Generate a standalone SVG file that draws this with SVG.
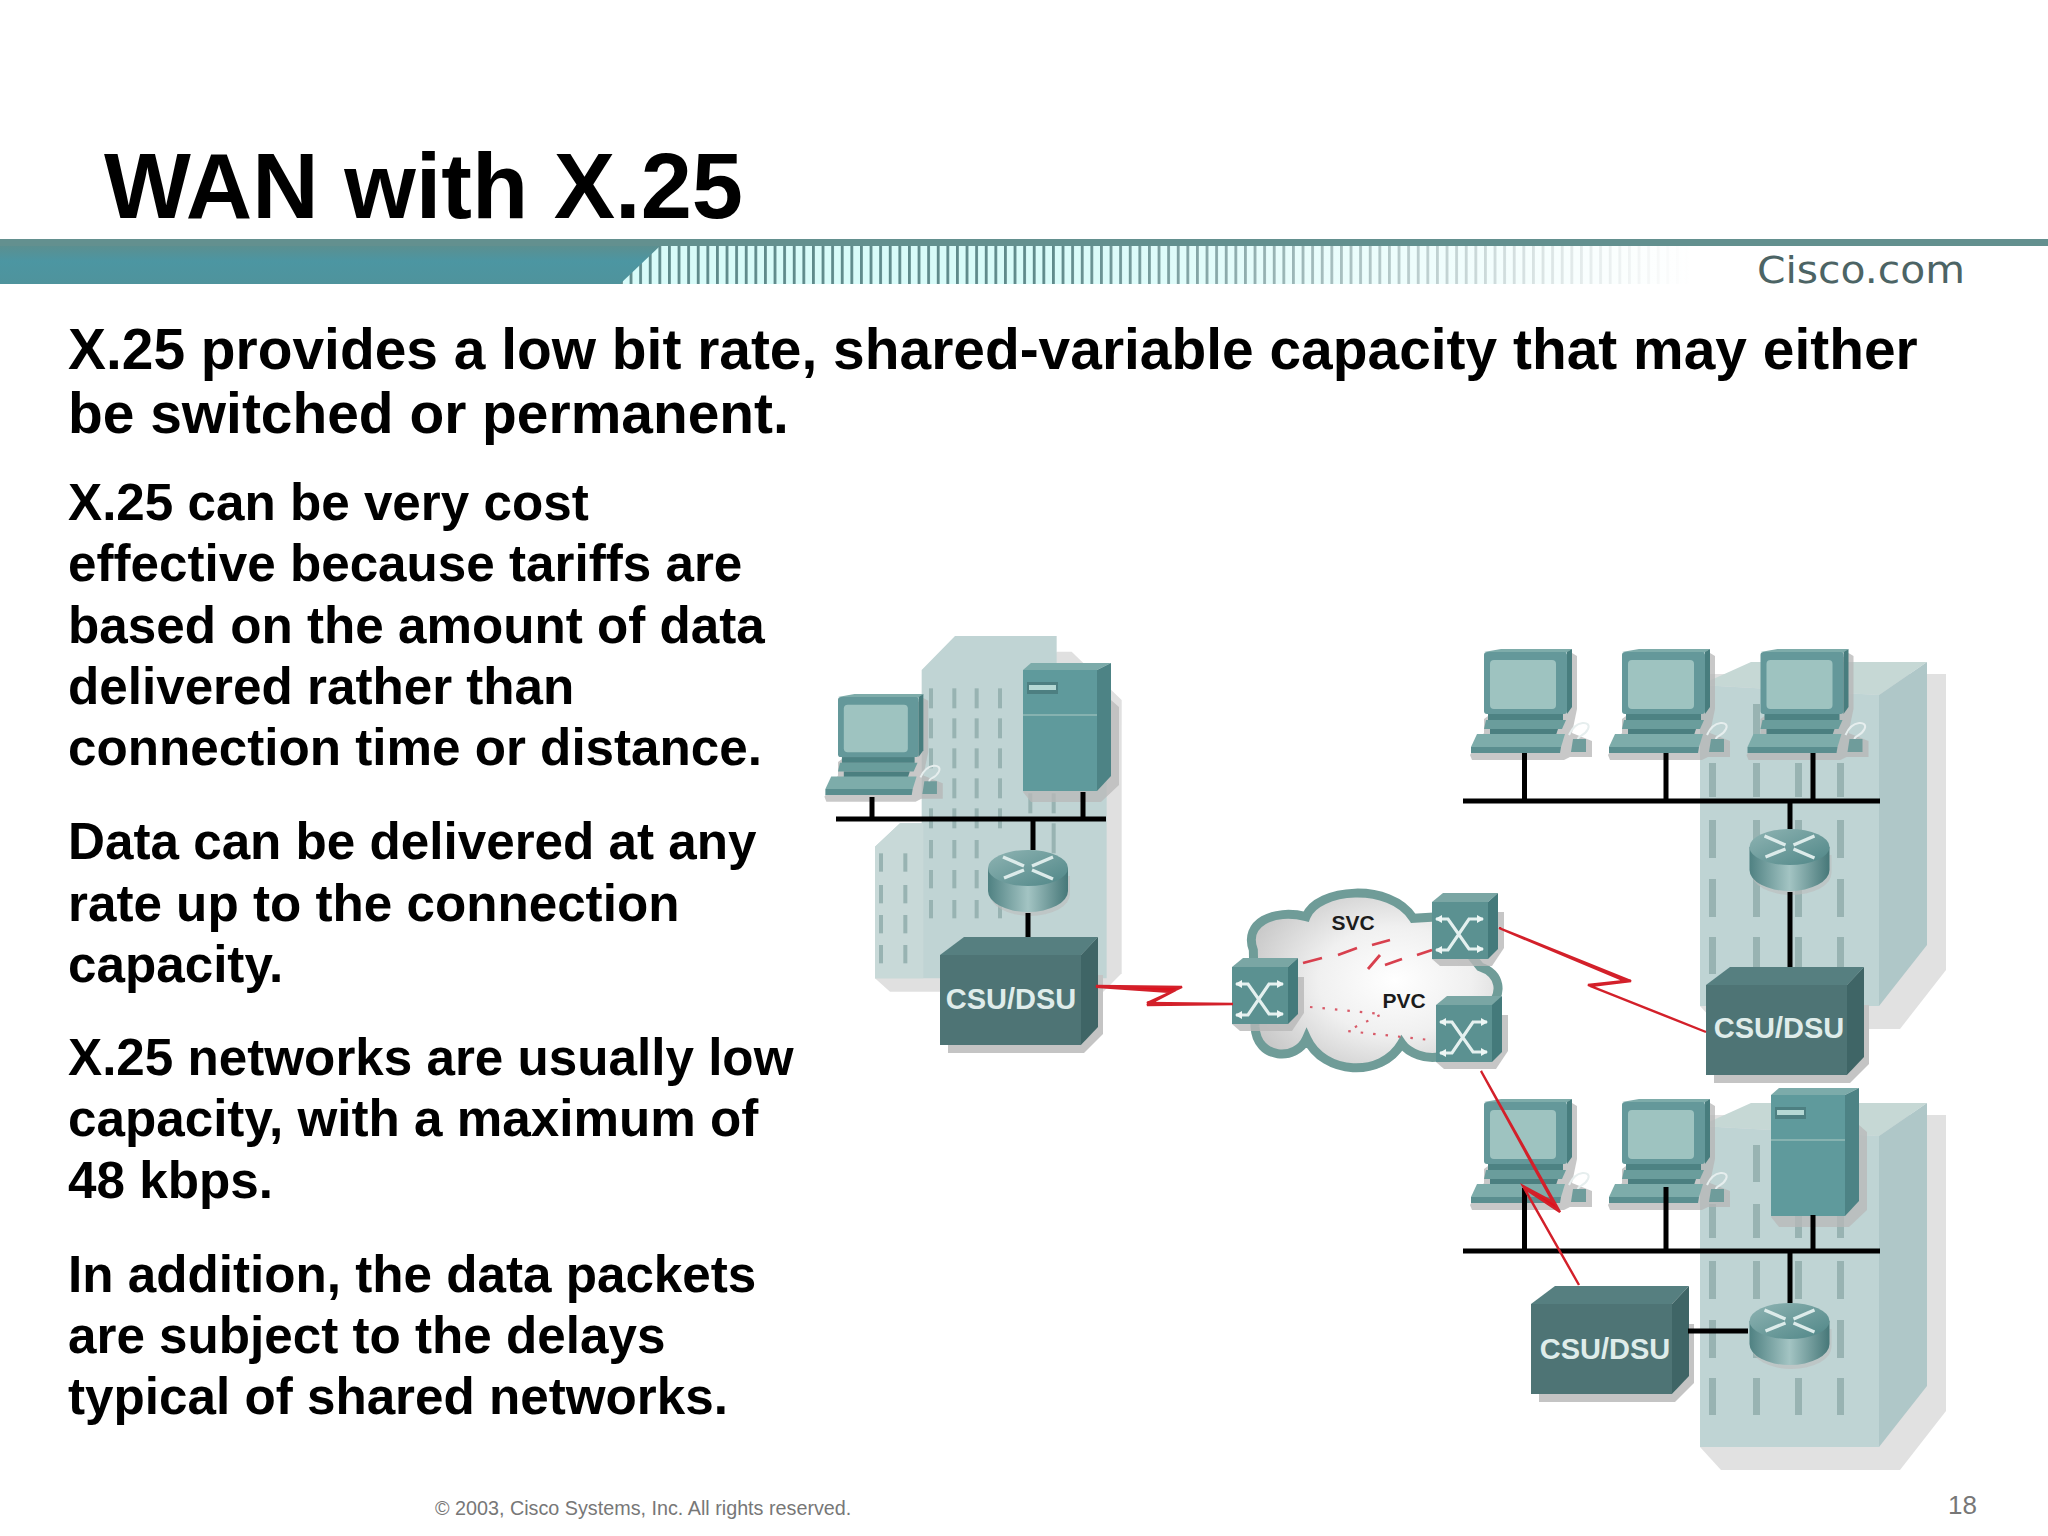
<svg xmlns="http://www.w3.org/2000/svg" width="2048" height="1536" viewBox="0 0 2048 1536">
<style>
text{font-family:"Liberation Sans",Arial,sans-serif}
.h{font-weight:700;font-size:56.9px;fill:#000}
.b{font-weight:700;font-size:51.2px;fill:#000}
.csu{font-size:29px;font-weight:700;fill:#dfecea;text-anchor:middle}
.lbl{font-size:21px;font-weight:700;fill:#1c1c1c;text-anchor:middle}
.blk{stroke:#000;stroke-width:5;fill:none}
.red{stroke:#d3202a;stroke-width:2.4;fill:#e0101c;stroke-linejoin:miter}
.dash{stroke:#d8404e;stroke-width:2.8;fill:none}
.dot{stroke:#d85a68;stroke-width:2.2;fill:none;stroke-dasharray:2.5 10}
.win{fill:#98b3b2}
</style>
<defs>
<linearGradient id="gBar" x1="0" y1="0" x2="0" y2="1"><stop offset="0" stop-color="#5b8f90"/><stop offset=".4" stop-color="#4c96a2"/><stop offset="1" stop-color="#4f939c"/></linearGradient>
<linearGradient id="gFade" x1="1050" y1="0" x2="1690" y2="0" gradientUnits="userSpaceOnUse"><stop offset="0" stop-color="#fff" stop-opacity="0"/><stop offset="1" stop-color="#fff"/></linearGradient>
<pattern id="stripes" x="620" y="0" width="9.6" height="10" patternUnits="userSpaceOnUse"><rect x="0" width="2.8" height="10" fill="#5f8a8b"/></pattern>
<linearGradient id="gRouter" x1="0" y1="0" x2="1" y2="0"><stop offset="0" stop-color="#4f8182"/><stop offset=".5" stop-color="#a3c4c3"/><stop offset="1" stop-color="#467778"/></linearGradient>
<linearGradient id="gRtop" x1="0" y1="0" x2="1" y2="1"><stop offset="0" stop-color="#8fb4b3"/><stop offset="1" stop-color="#4f8687"/></linearGradient>
<radialGradient id="gCloud" cx=".58" cy=".5" r=".62"><stop offset="0" stop-color="#fff"/><stop offset=".5" stop-color="#f0f0f0"/><stop offset="1" stop-color="#c9c9c9"/></radialGradient>
<g id="pc">
<path d="M88,4 L93,7 L93,60 L88,84 L108,92 L108,108 L86,108 L80,111 L-12,111 L-14,106 L0,84 L0,70 L88,4Z" fill="#b5b5b5" opacity=".75"/>
<polygon points="0,3 17,0 88,0 82,4" fill="#7eacaa"/>
<rect x="0" y="3" width="83" height="62" rx="3" fill="#64989a"/>
<polygon points="83,3 88,0 88,58 83,65" fill="#487d7e"/>
<rect x="6" y="11" width="66" height="49" rx="4" fill="#9ec3c0"/>
<rect x="4" y="65" width="75" height="6" fill="#4d8283"/>
<polygon points="2,71 82,71 78,80 0,80" fill="#6a9d9c"/>
<polygon points="6,80 74,80 72,86 6,86" fill="#4b7f80"/>
<polygon points="-7,85 81,85 77,98 -13,98" fill="#7dacaa"/>
<polygon points="-13,98 77,98 76,104 -13,104" fill="#5a8e8f"/>
<polygon points="89,90 102,90 102,103 87,103" fill="#6f9c9b"/>
<path d="M85,86 C92,70 108,72 104,80 C100,88 94,86 94,90" fill="none" stroke="#e6eeee" stroke-width="2"/>
</g>
<g id="srv">
<polygon points="88,30 96,37 96,115 78,132 8,132 0,122 74,0" fill="#b8b8b8" opacity=".75"/>
<polygon points="0,0 8,-7 88,-7 74,0" fill="#7cabaa"/>
<rect width="74" height="121" fill="#5f9a9c"/>
<rect y="44" width="74" height="2" fill="#86b2b0"/>
<polygon points="74,0 88,-7 88,106 74,121" fill="#4d8385"/>
<rect x="4" y="12" width="31" height="12" fill="#4d7f81"/>
<rect x="6" y="15" width="27" height="5" fill="#b5d8d4"/>
</g>
<g id="rtr">
<path d="M-38,26 A40,22 0 0 0 42,26 L42,8 L-38,8Z" fill="#bdbdbd" opacity=".6"/>
<path d="M-40,0 L-40,23 A40,21 0 0 0 40,23 L40,0Z" fill="url(#gRouter)"/>
<ellipse rx="40" ry="18" fill="url(#gRtop)"/>
<path d="M-25,-11 L-4,-2 M25,-11 L4,-2 M-24,10 L-4,2 M25,11 L4,2" stroke="#dcebea" stroke-width="3.4" fill="none"/>
</g>
<g id="csu">
<polygon points="8,90 8,98 144,98 163,79 163,20 157,20 157,72 141,90" fill="#c4c4c4"/>
<polygon points="0,0 24,-18 158,-18 141,0" fill="#567f80"/>
<rect width="141" height="90" fill="#4e7475"/>
<polygon points="141,0 158,-18 158,72 141,90" fill="#3f6566"/>
</g>
<g id="sw">
<polygon points="66,10 72,10 72,46 60,64 8,64 0,57" fill="#b8b8b8" opacity=".8"/>
<polygon points="0,0 11,-9 66,-9 56,0" fill="#7aa6a4"/>
<rect width="56" height="57" fill="#5b9191"/>
<polygon points="56,0 66,-9 66,47 56,57" fill="#447a7b"/>
<path d="M4,17 H16 L37,47 H51 M4,48 H16 L37,17 H51" fill="none" stroke="#e4f0ef" stroke-width="3.2"/>
<path d="M3,17 l7,-4 v8z M52,17 l-7,-4 v8z M3,48 l7,-4 v8z M52,47 l-7,-4 v8z" fill="#eef6f5"/>
</g>
<g id="bld">
<polygon points="227,12 246,12 246,308 200,367 21,367 0,344 0,12" fill="#e1e1e1"/>
<polygon points="0,23 51,0 227,0 179,33" fill="#c6d8d5"/>
<polygon points="0,23 179,33 179,344 0,344" fill="#bfd4d4"/>
<polygon points="179,33 227,0 227,283 179,344" fill="#afc7c8"/>
<rect x="53" y="42" width="7" height="37" class="win"/>
<g class="win">
<rect x="9" y="101" width="7" height="34"/><rect x="53" y="101" width="7" height="34"/><rect x="95" y="101" width="7" height="34"/><rect x="137" y="101" width="7" height="34"/>
<rect x="9" y="158" width="7" height="38"/><rect x="53" y="158" width="7" height="38"/><rect x="95" y="158" width="7" height="38"/><rect x="137" y="158" width="7" height="38"/>
<rect x="9" y="217" width="7" height="38"/><rect x="53" y="217" width="7" height="38"/><rect x="95" y="217" width="7" height="38"/><rect x="137" y="217" width="7" height="38"/>
<rect x="9" y="275" width="7" height="37"/><rect x="53" y="275" width="7" height="37"/><rect x="95" y="275" width="7" height="37"/><rect x="137" y="275" width="7" height="37"/>
</g>
</g>
</defs>
<rect width="2048" height="1536" fill="#fff"/>

<g id="header">
<text x="104" y="218" style="font-weight:700;font-size:92px;fill:#000">WAN with X.25</text>
<rect x="620" y="246" width="1070" height="38" fill="#d8fbf9"/>
<rect x="620" y="246" width="1070" height="38" fill="url(#stripes)"/>
<rect x="1050" y="246" width="640" height="38" fill="url(#gFade)"/>
<rect y="239" width="2048" height="7" fill="#63908f"/>
<polygon points="0,246 660,246 620,284 0,284" fill="url(#gBar)"/>
<text x="1757" y="283" textLength="208" lengthAdjust="spacingAndGlyphs" style="font-family:'DejaVu Sans',sans-serif;font-size:38px;fill:#4c6465">Cisco.com</text>
</g>

<g id="body-text">
<text class="h" x="68" y="369">X.25 provides a low bit rate, shared-variable capacity that may either</text>
<text class="h" x="68" y="433">be switched or permanent.</text>
<text class="b" x="68" y="520">X.25 can be very cost</text>
<text class="b" x="68" y="581">effective because tariffs are</text>
<text class="b" x="68" y="643">based on the amount of data</text>
<text class="b" x="68" y="704">delivered rather than</text>
<text class="b" x="68" y="765">connection time or distance.</text>
<text class="b" x="68" y="859">Data can be delivered at any</text>
<text class="b" x="68" y="921">rate up to the connection</text>
<text class="b" x="68" y="982">capacity.</text>
<text class="b" x="68" y="1075">X.25 networks are usually low</text>
<text class="b" x="68" y="1136">capacity, with a maximum of</text>
<text class="b" x="68" y="1198">48 kbps.</text>
<text class="b" x="68" y="1292">In addition, the data packets</text>
<text class="b" x="68" y="1353">are subject to the delays</text>
<text class="b" x="68" y="1414">typical of shared networks.</text>
</g>

<g id="footer">
<text x="435" y="1515" style="font-size:19.75px;fill:#777">© 2003, Cisco Systems, Inc. All rights reserved.</text>
<text x="1948" y="1514" style="font-size:26px;fill:#777">18</text>
</g>

<g id="building-left" transform="translate(810 620) scale(.33333)">
<polygon points="740,95 785,95 935,240 935,1060 880,1115 240,1115 195,1075 740,95" fill="#e0e0e0"/>
<polygon points="335,150 435,48 740,48 740,130 890,300 890,1075 195,1075 195,680 270,610 335,610" fill="#c0d4d4"/>
<polygon points="195,680 270,610 340,610 340,1075 195,1075" fill="#c8d9d8"/>
<g class="win">
<rect x="357" y="205" width="12" height="60"/><rect x="427" y="205" width="12" height="60"/><rect x="494" y="205" width="12" height="60"/><rect x="564" y="205" width="12" height="60"/>
<rect x="357" y="295" width="12" height="60"/><rect x="427" y="295" width="12" height="60"/><rect x="494" y="295" width="12" height="60"/><rect x="564" y="295" width="12" height="60"/>
<rect x="357" y="385" width="12" height="60"/><rect x="427" y="385" width="12" height="60"/><rect x="494" y="385" width="12" height="60"/><rect x="564" y="385" width="12" height="60"/>
<rect x="427" y="475" width="12" height="60"/><rect x="494" y="475" width="12" height="60"/><rect x="564" y="475" width="12" height="60"/>
<rect x="357" y="565" width="12" height="60"/><rect x="427" y="565" width="12" height="60"/><rect x="494" y="565" width="12" height="60"/><rect x="564" y="565" width="12" height="60"/><rect x="655" y="520" width="12" height="60"/><rect x="725" y="520" width="12" height="60"/>
<rect x="357" y="660" width="12" height="55"/><rect x="427" y="660" width="12" height="55"/><rect x="494" y="660" width="12" height="55"/><rect x="725" y="610" width="12" height="90"/>
<rect x="357" y="750" width="12" height="55"/><rect x="427" y="750" width="12" height="55"/><rect x="494" y="750" width="12" height="55"/>
<rect x="357" y="840" width="12" height="55"/><rect x="427" y="840" width="12" height="55"/><rect x="494" y="840" width="12" height="55"/><rect x="564" y="840" width="12" height="55"/>
<rect x="207" y="700" width="12" height="55"/><rect x="280" y="700" width="12" height="55"/>
<rect x="207" y="795" width="12" height="55"/><rect x="280" y="795" width="12" height="55"/>
<rect x="207" y="885" width="12" height="55"/><rect x="280" y="885" width="12" height="55"/>
<rect x="207" y="975" width="12" height="55"/><rect x="280" y="975" width="12" height="55"/>
</g>
</g>
<use id="building-right-top" href="#bld" x="1700" y="662"/>
<use id="building-right-bottom" href="#bld" x="1700" y="1103"/>

<g id="pc-left"><use href="#pc" transform="translate(838 694) scale(.97)"/></g>
<g id="server-left"><use href="#srv" x="1023" y="670"/></g>
<g id="router-left"><use href="#rtr" x="1028" y="868"/></g>
<g id="csu-left"><use href="#csu" x="940" y="955"/><text class="csu" x="1011" y="1009">CSU/DSU</text></g>

<g id="pc-tr1"><use href="#pc" x="1484" y="649"/></g>
<g id="pc-tr2"><use href="#pc" x="1622" y="649"/></g>
<g id="pc-tr3"><use href="#pc" x="1760.5" y="649"/></g>
<g id="router-tr"><use href="#rtr" x="1789.5" y="847"/></g>
<g id="csu-tr"><use href="#csu" x="1706" y="985"/><text class="csu" x="1779" y="1038">CSU/DSU</text></g>

<g id="pc-br1"><use href="#pc" x="1484" y="1099"/></g>
<g id="pc-br2"><use href="#pc" x="1622" y="1099"/></g>
<g id="server-br"><use href="#srv" x="1771" y="1095"/></g>
<g id="router-br"><use href="#rtr" x="1789.5" y="1321"/></g>
<g id="csu-br"><use href="#csu" x="1531" y="1304"/><text class="csu" x="1605" y="1359">CSU/DSU</text></g>

<g id="cloud">
<g transform="translate(1200 860) scale(.33333)">
<path d="M160,270 C130,190 220,145 318,170 C350,85 570,65 640,175 L720,170 L840,320 C900,340 915,400 860,450 L720,590 C680,600 625,580 605,550 C545,655 370,645 320,535 C290,605 170,600 165,500Z" fill="#a8b4b4" transform="translate(8 10)" opacity=".6"/>
<path d="M160,270 C130,190 220,145 318,170 C350,85 570,65 640,175 L720,170 L840,320 C900,340 915,400 860,450 L720,590 C680,600 625,580 605,550 C545,655 370,645 320,535 C290,605 170,600 165,500Z" fill="url(#gCloud)" stroke="#6f9c98" stroke-width="27"/>
</g>
<text class="lbl" x="1353" y="930">SVC</text>
<text class="lbl" x="1404" y="1008">PVC</text>
</g>
<g id="switch-a"><use href="#sw" x="1232" y="967"/></g>
<g id="switch-b"><use href="#sw" x="1432" y="902"/></g>
<g id="switch-c"><use href="#sw" x="1436" y="1005"/></g>

<g id="connectors">
<path class="blk" d="M836,819 H1106 M872,797 V819 M1083,792 V819 M1033,819 V850 M1028,913 V937"/>
<path class="blk" d="M1463,801 H1880 M1524.5,753 V801 M1666,753 V801 M1813,753 V801 M1790,801 V829 M1790,892 V967"/>
<path class="blk" d="M1463,1251 H1880 M1524.5,1188 V1251 M1666,1187 V1251 M1813,1215 V1251 M1790,1251 V1303 M1688,1331 H1748"/>
<polygon class="red" points="1097,986 1182,987 1147,1003 1233,1004 1147,1005 1172,992 1097,987"/>
<polygon class="red" points="1499,928 1631,981 1590,986 1706,1032 1588,985 1625,981"/>
<polygon class="red" points="1481,1071 1560,1212 1524,1188 1579,1285 1523,1186 1553,1202"/>
<path class="dash" d="M1303,963 L1322,958 M1338,955 L1357,948 M1372,945 L1390,940 M1417,955 L1432,950 M1385,965 L1402,959 M1368,969 L1380,955"/>
<path class="dot" d="M1310,1007 L1382,1014 L1347,1031 L1430,1040"/>
</g>
</svg>
